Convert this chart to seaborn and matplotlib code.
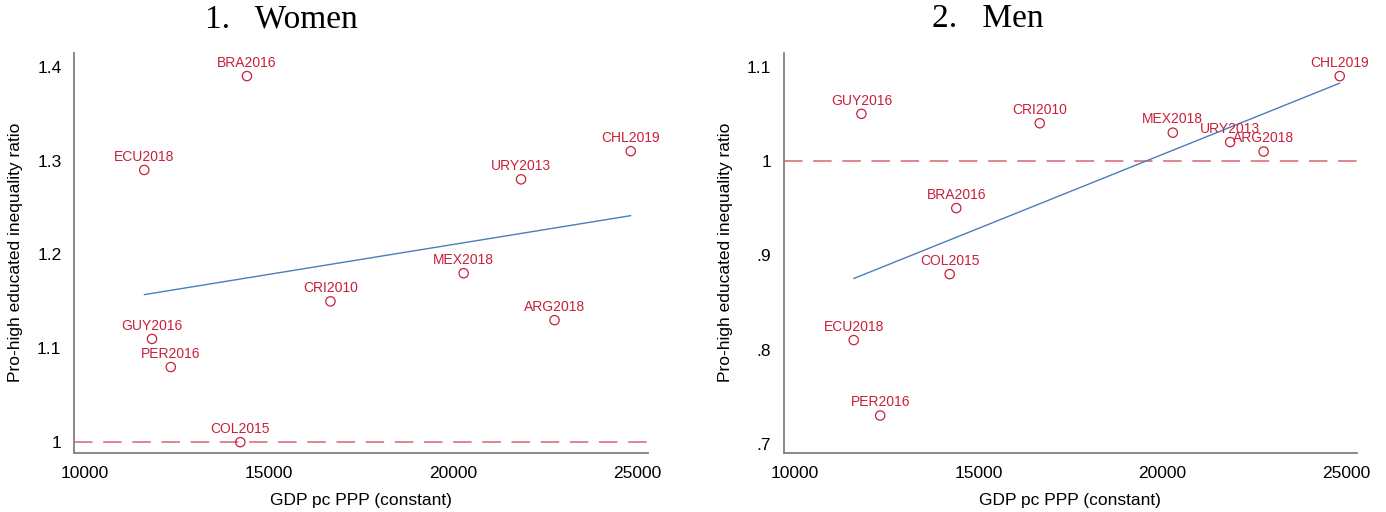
import pandas as pd
import matplotlib
matplotlib.use("Agg")
import matplotlib.pyplot as plt
import seaborn as sns

sns.set_style("white")
plt.rcParams['font.family'] = ['Liberation Sans', 'DejaVu Sans']
plt.rcParams['text.color'] = 'black'
plt.rcParams['axes.labelcolor'] = 'black'

countries = ["ECU2018", "GUY2016", "PER2016", "COL2015", "BRA2016",
             "CRI2010", "MEX2018", "URY2013", "ARG2018", "CHL2019"]
gdp = [11610, 11820, 12330, 14220, 14400, 16670, 20290, 21850, 22760, 24830]
women = [1.29, 1.11, 1.08, 1.00, 1.39, 1.15, 1.18, 1.28, 1.13, 1.31]
men = [0.81, 1.05, 0.73, 0.88, 0.95, 1.04, 1.03, 1.02, 1.01, 1.09]

x_ticks = [10000, 15000, 20000, 25000]
women_ticks = [1.0, 1.1, 1.2, 1.3, 1.4]
women_labels = ["1", "1.1", "1.2", "1.3", "1.4"]
men_ticks = [0.7, 0.8, 0.9, 1.0, 1.1]
men_labels = [".7", ".8", ".9", "1", "1.1"]

df = pd.DataFrame({"country": countries, "gdp": gdp, "women": women, "men": men})

red = "#c8203a"
dash_red = "#e0848e"
blue = "#4a7ebb"

fig = plt.figure(figsize=(13.86, 5.12), dpi=100)
ax1 = fig.add_axes([74/1386, 1-452.5/512, (648-74)/1386, (452.5-53)/512])
ax2 = fig.add_axes([783.5/1386, 1-452.5/512, (1357-783.5)/1386, (452.5-53)/512])

panels = [(ax1, "women", women_ticks, women_labels, (0.989, 1.4146), "1.   Women", 281),
          (ax2, "men", men_ticks, men_labels, (0.6908, 1.1145), "2.   Men", 988)]

for ax, col, yt, yl, ylim, title, tx in panels:
    ax.axhline(1, color=dash_red, lw=1.4, ls=(0, (9.5, 5.5)), zorder=1)
    sns.regplot(data=df, x="gdp", y=col, ax=ax, scatter=False, ci=None,
                line_kws=dict(color=blue, lw=1.0))
    sns.scatterplot(data=df, x="gdp", y=col, ax=ax, s=45, marker="o",
                    facecolors="none", edgecolor=red, linewidth=0.9, zorder=3)
    for _, r in df.iterrows():
        ax.annotate(r["country"], (r["gdp"], r[col]), xytext=(0, 4.5),
                    textcoords="offset points", ha="center", va="bottom",
                    color=red, fontsize=10)
    ax.set_xlim(9700, 25300)
    ax.set_ylim(*ylim)
    ax.set_xticks(x_ticks)
    ax.set_xticklabels([str(v) for v in x_ticks])
    ax.set_yticks(yt)
    ax.set_yticklabels(yl)
    ax.tick_params(axis="both", length=0, labelsize=12.5, colors="black")
    ax.tick_params(axis="y", pad=9)
    ax.tick_params(axis="x", pad=10)
    ax.set_xlabel("GDP pc PPP (constant)", fontsize=12.5, labelpad=8)
    ax.set_ylabel("Pro-high educated inequality ratio", fontsize=12.5, labelpad=10)
    for s in ["top", "right"]:
        ax.spines[s].set_visible(False)
    for s in ["left", "bottom"]:
        ax.spines[s].set_color("#808080")
        ax.spines[s].set_linewidth(1.3)
    fig.text(tx/1386, 1-19/512, title, ha="center", va="center", color="black",
             family=["Liberation Serif", "DejaVu Serif"], fontsize=24)

fig.savefig("out.png", dpi=100)
